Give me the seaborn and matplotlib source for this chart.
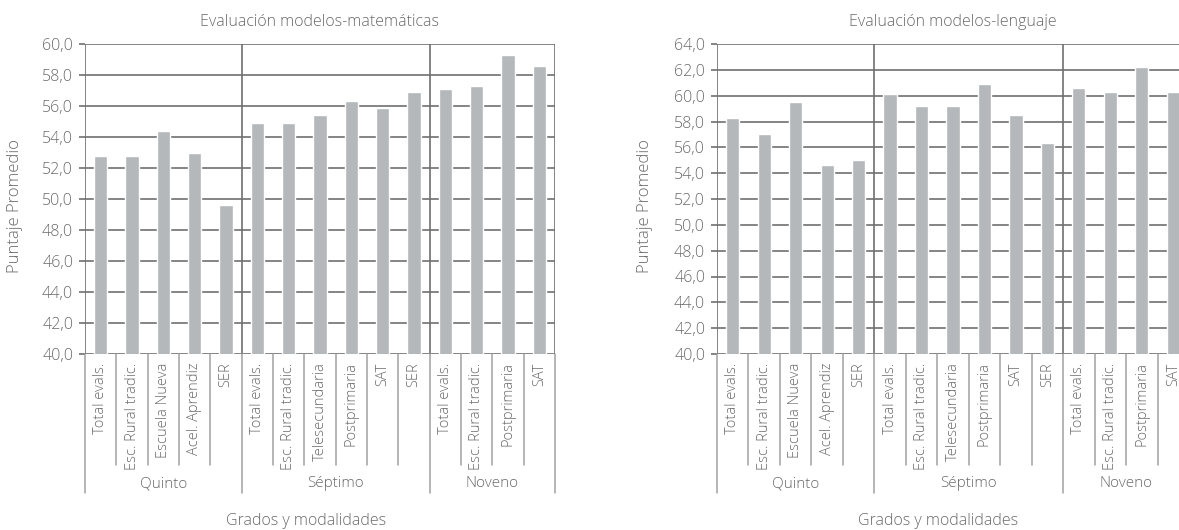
import matplotlib
matplotlib.use("Agg")
import matplotlib.pyplot as plt
import matplotlib.ticker as mticker
import seaborn as sns
import pandas as pd

# modalities per grade (same for both charts)
quinto = ["Total evals.", "Esc. Rural tradic.", "Escuela Nueva", "Acel. Aprendiz", "SER"]
septimo = ["Total evals.", "Esc. Rural tradic.", "Telesecundaria", "Postprimaria", "SAT", "SER"]
noveno = ["Total evals.", "Esc. Rural tradic.", "Postprimaria", "SAT"]
grados = ["Quinto", "Séptimo", "Noveno"]

# puntaje promedio
mat_vals = [52.8, 52.8, 54.4, 53.0, 49.6,
            54.9, 54.9, 55.4, 56.3, 55.9, 56.9,
            57.1, 57.3, 59.3, 58.6]
len_vals = [58.3, 57.0, 59.5, 54.6, 55.0,
            60.1, 59.2, 59.2, 60.9, 58.5, 56.3,
            60.6, 60.3, 62.2, 60.3]

sns.set_theme(style="white")
plt.rcParams["font.family"] = ["Open Sans", "DejaVu Sans"]
plt.rcParams["font.weight"] = "light"
plt.rcParams["axes.titleweight"] = "light"

TXT = "#6a6a6a"
GRID = "#707070"
SEP = "#a0a0a0"
BAR = "#b4b8ba"

groups = [quinto, septimo, noveno]
modal = quinto + septimo + noveno
grado_col = [g for g, lst in zip(grados, groups) for _ in lst]
keys = [f"{g}|{m}" for g, m in zip(grado_col, modal)]

fig = plt.figure(figsize=(11.79, 5.30), dpi=100)
W, H = 1179, 530


def panel(left_px, right_px, vals, ymax, title, ylab_x, xlab_x):
    ax = fig.add_axes([left_px / W, 1 - 354 / H, (right_px - left_px) / W, 310 / H])
    df = pd.DataFrame({"key": keys, "val": vals})
    sns.barplot(data=df, x="key", y="val", order=keys, color=BAR, width=0.42,
                saturation=1, ax=ax, zorder=3)
    ax.set_ylim(40, ymax)
    ax.set_xlim(-0.5, len(keys) - 0.5)
    ax.set_yticks(range(40, ymax + 1, 2))
    ax.yaxis.set_major_formatter(mticker.FuncFormatter(lambda v, p: f"{v:.1f}".replace(".", ",")))
    ax.grid(axis="y", color=GRID, lw=1.2, zorder=1)
    ax.set_xticks(range(len(keys)))
    ax.set_xticklabels(modal, rotation=90, va="top", ha="center")
    ax.tick_params(axis="x", length=0, pad=6, labelsize=10.5, labelcolor=TXT)
    ax.tick_params(axis="y", length=4.5, width=1.2, color=GRID, pad=4, labelsize=11.5,
                   labelcolor=TXT, left=True)
    for s in ax.spines.values():
        s.set_visible(False)
    ax.set_xlabel("")
    ax.set_ylabel("")

    tr = ax.get_xaxis_transform()
    # category separators below the axis
    bounds = []
    pos = -0.5
    for lst in groups:
        bounds.append(pos)
        pos += len(lst)
    bounds.append(pos)
    for b in [i - 0.5 for i in range(len(keys) + 1)]:
        if b in bounds:
            ax.plot([b, b], [1, 0], color=GRID, lw=1.2, transform=tr, zorder=2)
            ax.plot([b, b], [0, -0.448], color=SEP, lw=1.1, transform=tr, clip_on=False)
        else:
            ax.plot([b, b], [0, -0.358], color=SEP, lw=1.1, transform=tr, clip_on=False)
    for g, a, b in zip(grados, bounds[:-1], bounds[1:]):
        ax.text((a + b) / 2, -0.419, g, transform=tr, ha="center", va="center",
                fontsize=11, color=TXT)

    ax.set_title(title, fontsize=11.5, color=TXT, pad=13)
    fig.text(ylab_x / W, 1 - 206 / H, "Puntaje Promedio", rotation=90, ha="center",
             va="center", fontsize=12, color=TXT)
    fig.text(xlab_x / W, 1 - 521 / H, "Grados y modalidades", ha="center", va="center",
             fontsize=11.5, color=TXT)
    return ax


panel(85, 555, mat_vals, 60, "Evaluación modelos-matemáticas", 15, 306)
panel(717, 1189, len_vals, 64, "Evaluación modelos-lenguaje", 645, 938)

fig.savefig("out.png", dpi=100)
